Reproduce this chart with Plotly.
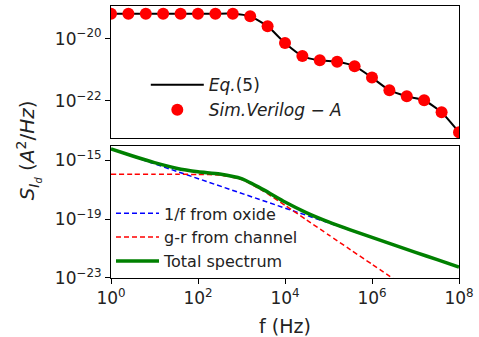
import plotly.graph_objects as go

# ---- top panel data: Eq.(5) vs simulated Verilog-A ----
freq_sim = [1, 2.51, 6.31, 15.8, 39.8, 100, 251, 631, 1585, 3981,
            1.0e4, 2.51e4, 6.31e4, 1.58e5, 3.98e5, 1.0e6, 2.51e6, 6.31e6,
            1.58e7, 3.98e7, 1.0e8]
s_eq5 = [6.3e-20, 6.3e-20, 6.3e-20, 6.3e-20, 6.3e-20, 6.3e-20, 6.3e-20, 6.3e-20,
         5.2e-20, 2.5e-20, 7.2e-21, 2.75e-21, 2.0e-21, 1.8e-21, 1.3e-21,
         5.6e-22, 2.2e-22, 1.4e-22, 1.05e-22, 4.3e-23, 9.8e-24]
s_sim = [6.3e-20, 6.3e-20, 6.3e-20, 6.3e-20, 6.3e-20, 6.3e-20, 6.3e-20, 6.3e-20,
         5.2e-20, 2.5e-20, 7.2e-21, 2.75e-21, 2.0e-21, 1.8e-21, 1.3e-21,
         5.6e-22, 2.2e-22, 1.4e-22, 1.05e-22, 4.3e-23, 9.8e-24]

# ---- bottom panel data: spectrum components ----
freq = [1, 3.16, 10, 31.6, 100, 316, 1e3, 3.16e3, 1e4, 3.16e4, 1e5, 3.16e5,
        1e6, 3.16e6, 1e7, 3.16e7, 1e8]
s_oxide = [5.5e-15, 1.74e-15, 5.5e-16, 1.74e-16, 5.5e-17, 1.74e-17, 5.5e-18,
           1.74e-18, 5.5e-19, 1.74e-19, 5.5e-20, 1.74e-20, 5.5e-21, 1.74e-21,
           5.5e-22, 1.74e-22, 5.5e-23]
freq_gr = [1, 3.16, 10, 31.6, 100, 316, 1e3, 3.16e3, 1e4, 3.16e4, 1e5, 3.16e5,
           1e6, 3.16e6]
s_gr = [1.07e-16, 1.07e-16, 1.07e-16, 1.07e-16, 1.05e-16, 9.5e-17, 4.8e-17,
        7.9e-18, 8.5e-19, 8.5e-20, 8.5e-21, 8.5e-22, 8.5e-23, 8.5e-24]
s_total = [5.6e-15, 1.86e-15, 6.6e-16, 2.8e-16, 1.6e-16, 1.12e-16, 5.4e-17,
           9.8e-18, 1.41e-18, 2.6e-19, 6.3e-20, 1.82e-20, 5.6e-21, 1.74e-21,
           5.5e-22, 1.74e-22, 5.5e-23]

x_tickvals = [1, 1e2, 1e4, 1e6, 1e8]
x_ticktext = ["10<sup>0</sup>", "10<sup>2</sup>", "10<sup>4</sup>", "10<sup>6</sup>", "10<sup>8</sup>"]
top_tickvals = [1e-20, 1e-22]
top_ticktext = ["10<sup>\u221220</sup>", "10<sup>\u221222</sup>"]
bot_tickvals = [1e-15, 1e-19, 1e-23]
bot_ticktext = ["10<sup>\u221215</sup>", "10<sup>\u221219</sup>", "10<sup>\u221223</sup>"]

FONT = "DejaVu Sans"

fig = go.Figure()

fig.add_trace(go.Scatter(x=freq_sim, y=s_eq5, mode="lines", name="<i>Eq.</i>(5)",
                         line=dict(color="black", width=2, shape="spline", smoothing=0.5),
                         xaxis="x", yaxis="y", legend="legend"))
fig.add_trace(go.Scatter(x=freq_sim, y=s_sim, mode="markers",
                         name="<i>Sim.Verilog</i> \u2212 <i>A</i>",
                         marker=dict(color="#ff0000", size=12),
                         xaxis="x", yaxis="y", legend="legend"))

fig.add_trace(go.Scatter(x=freq, y=s_oxide, mode="lines", name="1/f from oxide",
                         line=dict(color="#0000ff", width=1.5, dash="5px,3px"),
                         xaxis="x2", yaxis="y2", legend="legend2"))
fig.add_trace(go.Scatter(x=freq_gr, y=s_gr, mode="lines", name="g-r from channel",
                         line=dict(color="#ff0000", width=1.5, dash="5px,3px", shape="spline", smoothing=0.6),
                         xaxis="x2", yaxis="y2", legend="legend2"))
fig.add_trace(go.Scatter(x=freq, y=s_total, mode="lines", name="Total spectrum",
                         line=dict(color="#008000", width=3.5, shape="spline", smoothing=0.6),
                         xaxis="x2", yaxis="y2", legend="legend2"))

axis_common = dict(showline=True, linecolor="black", linewidth=1, mirror=True,
                   showgrid=False, zeroline=False, ticks="outside", ticklen=5,
                   tickwidth=1, tickcolor="black",
                   tickfont=dict(family=FONT, size=17, color="#222222"))

fig.update_layout(
    width=479, height=337,
    margin=dict(l=111, r=20, t=6, b=59),
    paper_bgcolor="white", plot_bgcolor="white",
    font=dict(family=FONT, size=17, color="#222222"),
    xaxis=dict(type="log", range=[0, 8], domain=[0, 1], anchor="y",
               showticklabels=False, **{k: v for k, v in axis_common.items() if k != "ticks"}, ticks=""),
    yaxis=dict(type="log", range=[-23.19, -18.955], domain=[0.5147, 1], anchor="x",
               tickvals=top_tickvals, ticktext=top_ticktext, **axis_common),
    xaxis2=dict(type="log", range=[0, 8], domain=[0, 1], anchor="y2",
                tickvals=x_tickvals, ticktext=x_ticktext, **axis_common),
    yaxis2=dict(type="log", range=[-23, -14.05], domain=[0, 0.4853], anchor="x2",
                tickvals=bot_tickvals, ticktext=bot_ticktext, **axis_common),
    legend=dict(x=0.10, y=0.775, xanchor="left", yanchor="top",
                bgcolor="rgba(0,0,0,0)", font=dict(family=FONT, size=17, color="#222222"),
                tracegroupgap=0, itemwidth=53),
    legend2=dict(x=0.0, y=0.30, xanchor="left", yanchor="top",
                 bgcolor="rgba(0,0,0,0)", font=dict(family=FONT, size=16, color="#222222"),
                 tracegroupgap=0, itemwidth=43),
    showlegend=True,
)

fig.add_annotation(text="f (Hz)", xref="paper", yref="paper", x=0.5, y=-0.176,
                   xanchor="center", yanchor="middle", showarrow=False,
                   font=dict(family=FONT, size=19, color="#222222"))
fig.add_annotation(text="<i>S<sub>I<sub>d</sub></sub></i> (<i>A</i><sup>2</sup>/<i>Hz</i>)",
                   xref="paper", yref="paper", x=-0.238, y=0.47,
                   xanchor="center", yanchor="middle", showarrow=False, textangle=-90,
                   font=dict(family=FONT, size=20, color="#222222"))

fig.write_html("out.html")
